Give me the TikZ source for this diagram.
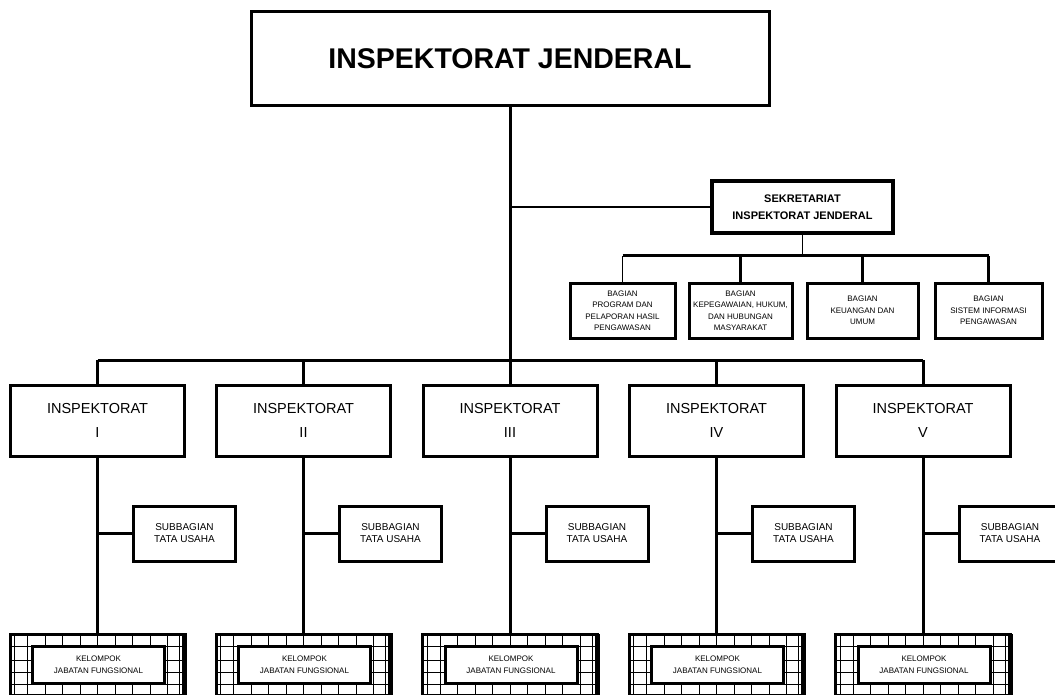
\documentclass[tikz,border=0pt]{standalone}
\usepackage{fontspec}
\setmainfont{Liberation Sans}
\begin{document}
\begin{tikzpicture}[x=1pt,y=-1pt,
  box/.style={draw, line width=3pt, fill=white, align=center, inner sep=0pt},
  conn/.style={line width=3pt},
  thinconn/.style={line width=1.5pt},
  gridline/.style={line width=0.8pt}]
  \useasboundingbox (0,0) rectangle (1055,695);
  \node[box, minimum width=518, minimum height=94,
    font=\bfseries\fontsize{28.5}{32}\selectfont] (ij) at (510,59)
    {INSPEKTORAT JENDERAL};
  \node[box, line width=3.5pt, minimum width=181, minimum height=52,
    font=\bfseries\fontsize{11}{17}\selectfont] (sekr) at (802.5,207)
    {SEKRETARIAT\\INSPEKTORAT JENDERAL};
  \foreach \cx/\w/\txt [count=\i] in
    {622.5/105/{BAGIAN\\PROGRAM DAN\\PELAPORAN HASIL\\PENGAWASAN},
     740.5/103/{BAGIAN\\KEPEGAWAIAN, HUKUM,\\DAN HUBUNGAN\\MASYARAKAT},
     862.5/111/{BAGIAN\\KEUANGAN DAN\\UMUM},
     988.5/107/{BAGIAN\\SISTEM INFORMASI\\PENGAWASAN}}
    \node[box, minimum width=\w, minimum height=55,
      font=\fontsize{8}{11.5}\selectfont] (bag\i) at (\cx,310.5) {\txt};
  \foreach \cx/\num [count=\i] in {97.5/I,303.5/II,510/III,716.5/IV,923/V}
  {
    \node[box, minimum width=174, minimum height=71,
      font=\fontsize{14.5}{24}\selectfont] (insp\i) at (\cx,420.5)
      {INSPEKTORAT\\\num};
    \node[box, minimum width=102, minimum height=55,
      font=\fontsize{10}{12}\selectfont] (sub\i) at (\cx+87,533.5)
      {SUBBAGIAN\\TATA USAHA};
    % kelompok jabatan fungsional with grid
    \node[box, minimum width=175, minimum height=68] (kel\i) at (\cx,668) {};
    \foreach \k in {1,...,9}
      \draw[gridline] (\cx-87.5+\k*17.5,634) -- (\cx-87.5+\k*17.5,702);
    \foreach \yy in {646,660,672,684,694}
      \draw[gridline] (\cx-87.5,\yy) -- (\cx+87.5,\yy);
    \draw[gridline] (\cx-83,634) -- (\cx-83,702);
    \draw[gridline] (\cx+82,634) -- (\cx+82,702);
    \draw[line width=5pt] (\cx+87,634) -- (\cx+87,702);
    \node[box, minimum width=132, minimum height=37,
      font=\fontsize{8}{12}\selectfont] (kelin\i) at (\cx+1,664.5)
      {KELOMPOK\\JABATAN FUNGSIONAL};
  }
  \coordinate (bus) at (510,360);
  \coordinate (bbus) at (802.5,256);
  \draw[conn] (ij.south) -- (insp3.north);
  \draw[thinconn] (ij.south |- sekr.west) -- (sekr.west);
  \draw[thinconn] (sekr.south) -- (bbus);
  \draw[conn] (bag1.north |- bbus) -- (bag4.north |- bbus);
  \draw[thinconn] (bag1.north) -- (bag1.north |- bbus);
  \foreach \i in {2,3,4}
    \draw[conn] (bag\i.north) -- (bag\i.north |- bbus);
  \draw[conn] (insp1.north |- bus) -- (insp5.north |- bus);
  \foreach \i in {1,...,5}
  {
    \draw[conn] (insp\i.north) -- (insp\i.north |- bus);
    \draw[conn] (insp\i.south) -- (kel\i.north);
    \draw[conn] (insp\i.south |- sub\i.west) -- (sub\i.west);
  }
\end{tikzpicture}
\end{document}
